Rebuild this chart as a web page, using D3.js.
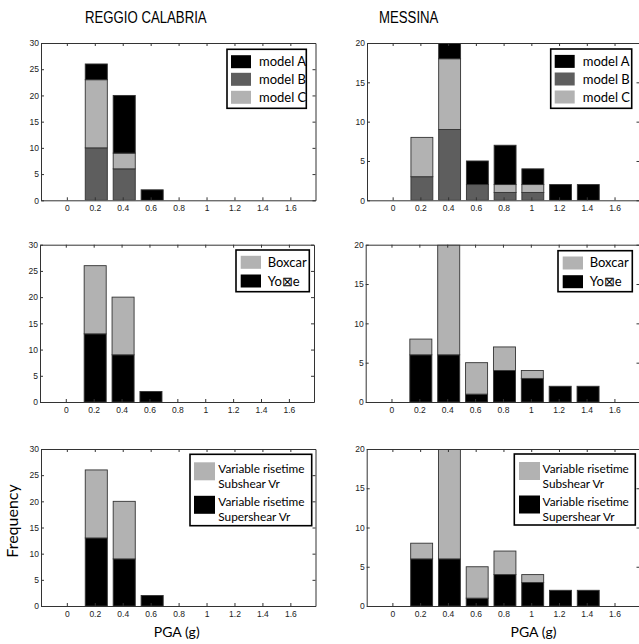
<!DOCTYPE html>
<html>
<head>
<meta charset="utf-8">
<script src="https://cdn.jsdelivr.net/npm/d3@7/dist/d3.min.js"></script>
<style>
  html, body { margin: 0; padding: 0; background: #fff; }
  svg { display: block; }
</style>
</head>
<body>
<svg id="chart" width="639" height="644"></svg>
<script>
// PGA bin centres (g)
const categories = [0.2, 0.4, 0.6, 0.8, 1.0, 1.2, 1.4];

// Slip models
const reggioModelA  = [3, 11, 2, 0, 0, 0, 0];
const reggioModelB  = [10, 6, 0, 0, 0, 0, 0];
const reggioModelC  = [13, 3, 0, 0, 0, 0, 0];
const messinaModelA = [0, 2, 3, 5, 2, 2, 2];
const messinaModelB = [3, 9, 2, 1, 1, 0, 0];
const messinaModelC = [5, 9, 0, 1, 1, 0, 0];

// Source time functions
const reggioYoffe   = [13, 9, 2, 0, 0, 0, 0];
const reggioBoxcar  = [13, 11, 0, 0, 0, 0, 0];
const messinaYoffe  = [6, 6, 1, 4, 3, 2, 2];
const messinaBoxcar = [2, 14, 4, 3, 1, 0, 0];

// Rupture velocity (variable risetime)
const reggioSupershear  = [13, 9, 2, 0, 0, 0, 0];
const reggioSubshear    = [13, 11, 0, 0, 0, 0, 0];
const messinaSupershear = [6, 6, 1, 4, 3, 2, 2];
const messinaSubshear   = [2, 14, 4, 3, 1, 0, 0];

// Tick values
const xTicks = [0, 0.2, 0.4, 0.6, 0.8, 1, 1.2, 1.4, 1.6];
const xTickLabels = ["0", "0.2", "0.4", "0.6", "0.8", "1", "1.2", "1.4", "1.6"];
const reggioYTicks = [0, 5, 10, 15, 20, 25, 30];
const messinaYTicks = [0, 5, 10, 15, 20];

const stationTitles = ["REGGIO CALABRIA", "MESSINA"];

const BLACK = "#000000", DARK = "#5e5e5e", LIGHT = "#b2b2b2";

const svg = d3.select("#chart");

// Panel geometry and series (bottom-to-top stacking order; legend order separately)
const panels = [
  { left: 41, right: 315.5, top: 43, bottom: 200.3, yTicks: reggioYTicks, yMax: 30,
    series: [ {name: "model B", values: reggioModelB, color: DARK},
              {name: "model C", values: reggioModelC, color: LIGHT},
              {name: "model A", values: reggioModelA, color: BLACK} ],
    legendOrder: ["model A", "model B", "model C"],
    legend: {x: 227, y: 49.3, w: 79.3, h: 59, rows: [12.4, 30, 48], sw: 20, sh: 13, sx: 4, tx: 32, two: false, fs: 13} },
  { left: 367, right: 639.5, top: 43, bottom: 200.3, yTicks: messinaYTicks, yMax: 20,
    series: [ {name: "model B", values: messinaModelB, color: DARK},
              {name: "model C", values: messinaModelC, color: LIGHT},
              {name: "model A", values: messinaModelA, color: BLACK} ],
    legendOrder: ["model A", "model B", "model C"],
    legend: {x: 550.7, y: 49, w: 81, h: 59.3, rows: [12.4, 30, 48], sw: 20, sh: 13, sx: 4, tx: 32, two: false, fs: 13} },
  { left: 40, right: 314, top: 244.7, bottom: 402, yTicks: reggioYTicks, yMax: 30,
    series: [ {name: "Yo\u22A0e", values: reggioYoffe, color: BLACK},
              {name: "Boxcar", values: reggioBoxcar, color: LIGHT} ],
    legendOrder: ["Boxcar", "Yo\u22A0e"],
    legend: {x: 236, y: 250, w: 73.3, h: 41.7, rows: [12.3, 31], sw: 20.3, sh: 13, sx: 4.7, tx: 31.7, two: false, fs: 13} },
  { left: 365.7, right: 639.5, top: 244.7, bottom: 402, yTicks: messinaYTicks, yMax: 20,
    series: [ {name: "Yo\u22A0e", values: messinaYoffe, color: BLACK},
              {name: "Boxcar", values: messinaBoxcar, color: LIGHT} ],
    legendOrder: ["Boxcar", "Yo\u22A0e"],
    legend: {x: 558, y: 250.7, w: 74.3, h: 41, rows: [12.3, 31], sw: 20.3, sh: 13, sx: 4.7, tx: 31.7, two: false, fs: 13} },
  { left: 41, right: 315.5, top: 449, bottom: 606, yTicks: reggioYTicks, yMax: 30,
    series: [ {name: "Variable risetime|Supershear Vr", values: reggioSupershear, color: BLACK},
              {name: "Variable risetime|Subshear Vr", values: reggioSubshear, color: LIGHT} ],
    legendOrder: ["Variable risetime|Subshear Vr", "Variable risetime|Supershear Vr"],
    legend: {x: 190, y: 454.3, w: 121.7, h: 71.4, rows: [17, 50.5], sw: 21, sh: 18, sx: 4, tx: 28.3, two: true, fs: 11.8} },
  { left: 366.7, right: 639.5, top: 449, bottom: 606, yTicks: messinaYTicks, yMax: 20,
    series: [ {name: "Variable risetime|Supershear Vr", values: messinaSupershear, color: BLACK},
              {name: "Variable risetime|Subshear Vr", values: messinaSubshear, color: LIGHT} ],
    legendOrder: ["Variable risetime|Subshear Vr", "Variable risetime|Supershear Vr"],
    legend: {x: 514.3, y: 454, w: 121, h: 71, rows: [17, 50.5], sw: 21, sh: 18, sx: 4.7, tx: 28.3, two: true, fs: 11.8} }
];

const LEGEND_FONT = "Lato, 'Open Sans', sans-serif";
const TICK_FONT = "'Liberation Sans', Arial, sans-serif";

panels.forEach((p, idx) => {
  const x = d3.scaleLinear().domain([-0.185, 1.78]).range([p.left, p.right]);
  const y = d3.scaleLinear().domain([0, p.yMax]).range([p.bottom, p.top]);
  const g = svg.append("g");

  const clipId = "clip" + idx;
  svg.append("clipPath").attr("id", clipId)
    .append("rect").attr("x", p.left).attr("y", p.top)
    .attr("width", p.right - p.left).attr("height", p.bottom - p.top);

  // Stacked bars
  const keys = p.series.map(s => s.name);
  const table = categories.map((c, i) => {
    const row = {pga: c};
    p.series.forEach(s => { row[s.name] = s.values[i]; });
    return row;
  });
  const stacked = d3.stack().keys(keys)(table);
  const barW = 0.158;
  const bars = g.append("g").attr("clip-path", `url(#${clipId})`);
  stacked.forEach((layer, li) => {
    bars.selectAll(null)
      .data(layer.filter(d => d[1] > d[0]))
      .join("rect")
      .attr("x", d => x(d.data.pga - barW / 2) + 1.5)
      .attr("width", d => x(barW) - x(0))
      .attr("y", d => y(d[1]))
      .attr("height", d => y(d[0]) - y(d[1]))
      .attr("fill", p.series[li].color)
      .attr("stroke", "#333")
      .attr("stroke-width", 0.9);
  });

  // Axes with inward ticks on all four sides
  const tickStyle = sel => {
    sel.selectAll("path").attr("stroke", "#333").attr("stroke-width", 1);
    sel.selectAll("line").attr("stroke", "#333").attr("stroke-width", 1);
    sel.selectAll("text").attr("font-family", TICK_FONT).attr("font-size", 8.5).attr("fill", "#222");
  };
  g.append("g").attr("transform", `translate(0,${p.bottom})`)
    .call(d3.axisBottom(x).tickValues(xTicks).tickFormat((d, i) => xTickLabels[i])
      .tickSizeInner(-3).tickSizeOuter(0).tickPadding(5))
    .call(tickStyle);
  g.append("g").attr("transform", `translate(0,${p.top})`)
    .call(d3.axisTop(x).tickValues(xTicks).tickFormat("").tickSizeInner(-3).tickSizeOuter(0))
    .call(tickStyle);
  g.append("g").attr("transform", `translate(${p.left},0)`)
    .call(d3.axisLeft(y).tickValues(p.yTicks).tickFormat(d3.format("d"))
      .tickSizeInner(-3).tickSizeOuter(0).tickPadding(2))
    .call(tickStyle);
  g.append("g").attr("transform", `translate(${p.right},0)`)
    .call(d3.axisRight(y).tickValues(p.yTicks).tickFormat("").tickSizeInner(-3).tickSizeOuter(0))
    .call(tickStyle);

  // Legend
  const L = p.legend;
  const lg = g.append("g").attr("transform", `translate(${L.x},${L.y})`);
  lg.append("rect").attr("width", L.w).attr("height", L.h)
    .attr("fill", "#fff").attr("stroke", "#000").attr("stroke-width", 1.6);
  p.legendOrder.forEach((name, i) => {
    const s = p.series.find(d => d.name === name);
    const cy = L.rows[i];
    lg.append("rect").attr("x", L.sx).attr("y", cy - L.sh / 2)
      .attr("width", L.sw).attr("height", L.sh).attr("fill", s.color);
    const lines = name.split("|");
    if (L.two) {
      lines.forEach((t, k) => {
        lg.append("text").attr("x", L.tx).attr("y", cy + (k === 0 ? -3 : 12) + 4.5)
          .attr("font-family", LEGEND_FONT).attr("font-size", L.fs).attr("fill", "#000").text(t);
      });
    } else {
      lg.append("text").attr("x", L.tx).attr("y", cy + 4.5)
        .attr("font-family", LEGEND_FONT).attr("font-size", L.fs).attr("fill", "#000").text(lines[0]);
    }
  });
});

// Column titles
const titleSpec = [ {cx: 145.8, w: 121.7}, {cx: 408.7, w: 59.3} ];
stationTitles.forEach((t, i) => {
  svg.append("text").attr("x", titleSpec[i].cx - titleSpec[i].w / 2).attr("y", 23.3)
    .attr("font-family", "'Liberation Sans Narrow', 'Liberation Sans', sans-serif")
    .attr("font-size", 16).attr("textLength", titleSpec[i].w).attr("lengthAdjust", "spacingAndGlyphs")
    .attr("fill", "#000").text(t);
});

// Axis titles
svg.append("text").attr("transform", "translate(18,521) rotate(-90)")
  .attr("text-anchor", "middle").attr("font-family", LEGEND_FONT).attr("font-size", 16)
  .attr("fill", "#000").text("Frequency");
[176.7, 533.5].forEach(cx => {
  svg.append("text").attr("x", cx).attr("y", 636.7).attr("text-anchor", "middle")
    .attr("font-family", LEGEND_FONT).attr("font-size", 14).attr("fill", "#000").text("PGA (g)");
});
</script>
</body>
</html>
